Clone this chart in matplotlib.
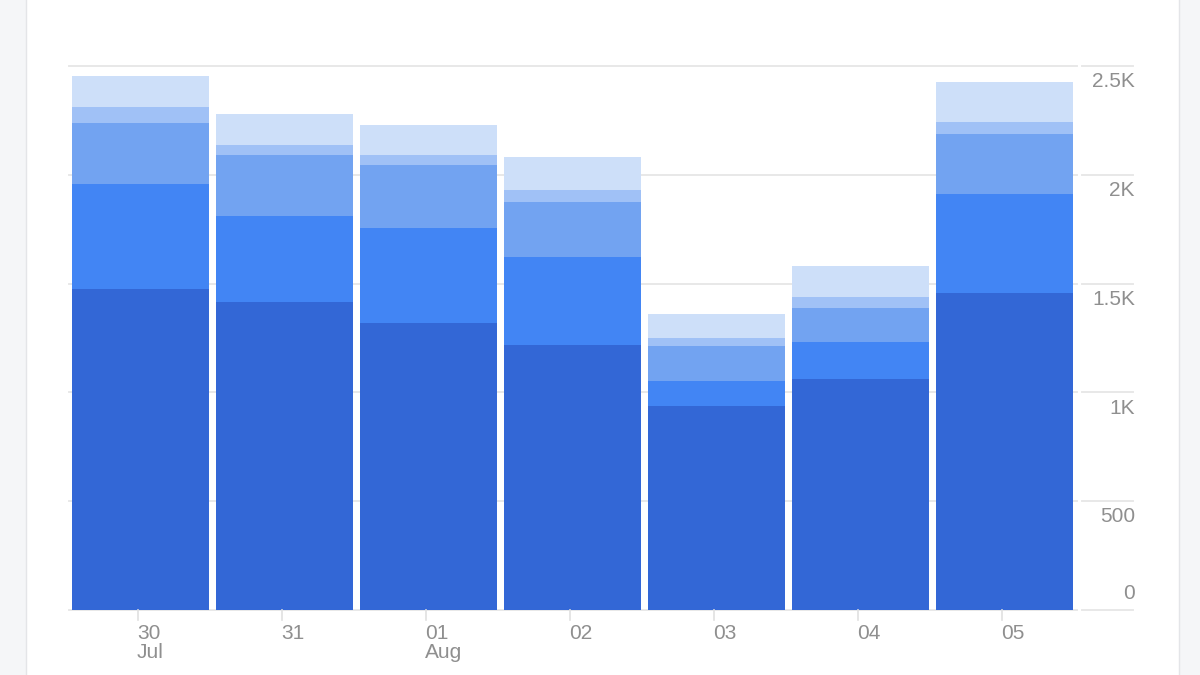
import matplotlib.pyplot as plt
from matplotlib.patches import Rectangle
import matplotlib.transforms as mtransforms
import numpy as np

plt.rcParams['font.family'] = ['Liberation Sans', 'DejaVu Sans']

# data (stacked layers, bottom to top)
days = ['30', '31', '01', '02', '03', '04', '05']
months = ['Jul', '', 'Aug', '', '', '', '']
layer1 = [1475, 1415, 1319, 1218, 938, 1062, 1457]
layer2 = [483, 396, 437, 404, 114, 170, 455]
layer3 = [280, 280, 289, 253, 161, 156, 276]
layer4 = [74, 46, 46, 55, 37, 50, 55]
layer5 = [142, 142, 138, 152, 110, 143, 183]
layers = [layer1, layer2, layer3, layer4, layer5]
colors = ['#3367d6', '#4285f4', '#72a3f1', '#a0c1f6', '#cddff9']

ytick_vals = [0, 500, 1000, 1500, 2000, 2500]
ytick_labels = ['0', '500', '1K', '1.5K', '2K', '2.5K']

fig = plt.figure(figsize=(12, 6.75), dpi=100)
fig.patch.set_facecolor('#f5f6f8')
# white card behind the chart
fig.patches.append(Rectangle((26 / 1200, -0.01), (1179 - 26) / 1200, 1.02,
                             transform=fig.transFigure, facecolor='white',
                             edgecolor='#e4e5e8', linewidth=1.0, zorder=-1))

ax = fig.add_axes([68.5 / 1200, 65 / 675, 1008 / 1200, (610 - 66) / 675])
ax.set_facecolor('none')

x = np.arange(len(days))
bottom = np.zeros(len(days))
for vals, c in zip(layers, colors):
    ax.bar(x, vals, width=0.951, bottom=bottom, color=c, linewidth=0, zorder=2)
    bottom += np.array(vals)

ax.set_xlim(-0.5, 6.5)
ax.set_ylim(0, 2500)

for s in ax.spines.values():
    s.set_visible(False)
ax.set_yticks([])
ax.set_xticks([])

# gridlines plus short segments under the right-hand labels
trans = mtransforms.blended_transform_factory(ax.transAxes, ax.transData)
for v, lab in zip(ytick_vals, ytick_labels):
    ax.plot([0, 1], [v, v], transform=trans, color='#e8e8e8', lw=1.4,
            zorder=1, clip_on=False)
    ax.plot([1.0055, 1.056], [v, v], transform=trans, color='#e8e8e8', lw=1.4,
            zorder=1, clip_on=False)
    if v == 0:
        off = mtransforms.offset_copy(trans, fig=fig, x=0, y=5, units='points')
        va = 'bottom'
    else:
        off = mtransforms.offset_copy(trans, fig=fig, x=0, y=-4.5, units='points')
        va = 'top'
    ax.text(1.058, v, lab, transform=off, ha='right', va=va,
            fontsize=15, color='#8f8f8f')

# x tick marks and day/month labels
xtrans = mtransforms.blended_transform_factory(ax.transData, ax.transAxes)
for i, (d, m) in enumerate(zip(days, months)):
    ax.plot([i - 0.02, i - 0.02], [0, -0.018], transform=xtrans,
            color='#e0e0e0', lw=1.2, clip_on=False)
    ax.text(i - 0.025, -0.025, d, transform=xtrans, ha='left', va='top',
            fontsize=15, color='#8f8f8f')
    if m:
        ax.text(i - 0.025, -0.06, m, transform=xtrans, ha='left', va='top',
                fontsize=15, color='#8f8f8f')

fig.savefig('out.png', dpi=100, facecolor=fig.get_facecolor())
